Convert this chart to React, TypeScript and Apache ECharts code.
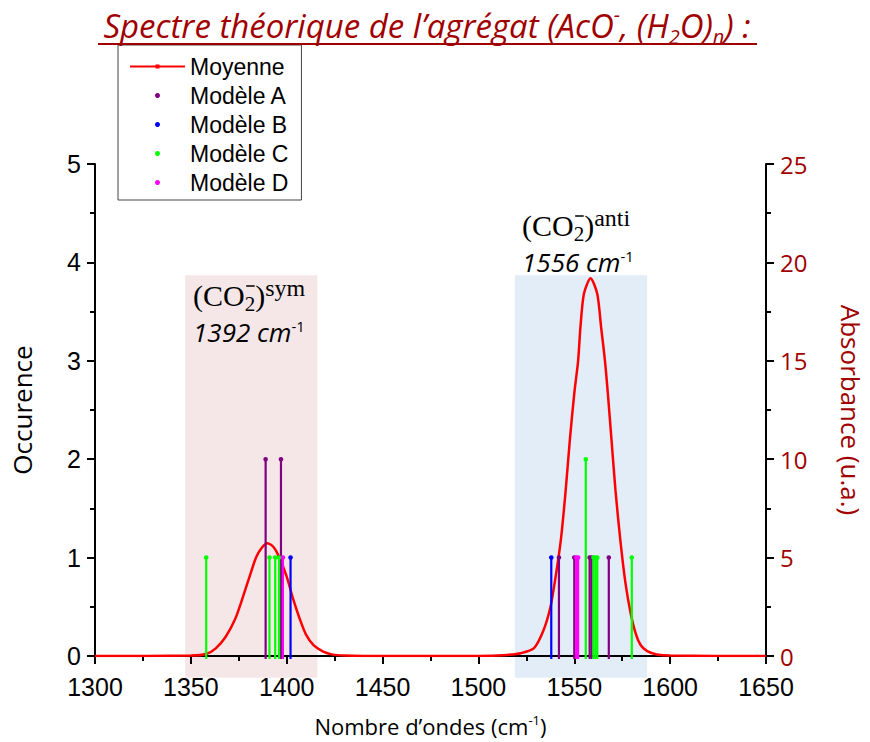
import React, { useEffect, useRef } from "react";
import * as echarts from "echarts";

// Average spectrum (Moyenne), absorbance (u.a.)
const moyenneX = [1300, 1350, 1358, 1363, 1368, 1373, 1377, 1381, 1384, 1387, 1390, 1393, 1396, 1400, 1403.5, 1407, 1410, 1414, 1419, 1424, 1430, 1440, 1500, 1510, 1515, 1522, 1529, 1534, 1537.6, 1540, 1543, 1545.5, 1547.7, 1550, 1552, 1553.2, 1555, 1558.5, 1562, 1564, 1566, 1567.5, 1569.4, 1571.5, 1574, 1576.7, 1579.4, 1582, 1584.6, 1588, 1593, 1600, 1650];
const moyenneY = [0, 0.02, 0.1, 0.39, 0.95, 1.85, 2.95, 4.15, 5.0, 5.5, 5.73, 5.55, 5.05, 4.03, 2.85, 1.83, 1.1, 0.55, 0.22, 0.07, 0.02, 0, 0, 0.02, 0.05, 0.14, 0.4, 1.32, 2.5, 3.86, 5.9, 8.4, 11.0, 13.35, 15.0, 16.7, 18.4, 19.2, 18.4, 16.7, 15.0, 13.35, 11.0, 8.4, 5.9, 3.7, 2.17, 1.15, 0.56, 0.25, 0.08, 0.02, 0];

// Occurrences per model
const modelAX = [1389, 1397, 1542, 1550, 1558, 1559, 1568];
const modelAY = [2, 2, 1, 1, 1, 1, 1];
const modelBX = [1402, 1538];
const modelBY = [1, 1];
const modelCX = [1358, 1391, 1394, 1396, 1556, 1560, 1561, 1562, 1580];
const modelCY = [1, 1, 1, 1, 2, 1, 1, 1, 1];
const modelDX = [1398, 1551, 1552];
const modelDY = [1, 1, 1];

const seriesNames = ["Moyenne", "Modèle A", "Modèle B", "Modèle C", "Modèle D"];
const seriesColors = ["#ff0000", "#800080", "#0000ff", "#00ff00", "#ff00ff"];

// Highlighted regions [from, to] in cm-1, heights in occurrence units
const symRegion = [1347, 1416];
const antiRegion = [1519, 1588];
const regionTop = 3.87;
const regionBottom = -0.22;

const DARK_RED = "#a00000";
const TICK_FONT = '"Liberation Sans Narrow", "Liberation Sans", Arial, sans-serif';

const zip = (xs: number[], ys: number[]) => xs.map((x, i) => [x, ys[i]]);

function measure(text: string, font: string) {
  const c = document.createElement("canvas").getContext("2d")!;
  c.font = font;
  return c.measureText(text).width;
}

export default function App() {
  const ref = useRef<HTMLDivElement>(null);
  useEffect(() => {
    document.body.style.margin = "0";
    if (!ref.current) return;
    const chart = echarts.init(ref.current, null, { renderer: "svg" });

    const stick = (color: string) => (params: any, api: any) => {
      const x = api.value(0);
      const y = api.value(1);
      const base = api.coord([x, 0]);
      const top = api.coord([x, y]);
      return {
        type: "group",
        children: [
          { type: "line", shape: { x1: base[0], y1: base[1] + 3, x2: top[0], y2: top[1] }, style: { stroke: color, lineWidth: 2.2 } },
          { type: "circle", shape: { cx: top[0], cy: top[1], r: 2.3 }, style: { fill: color } },
        ],
      };
    };

    const models = [
      zip(modelAX, modelAY),
      zip(modelBX, modelBY),
      zip(modelCX, modelCY),
      zip(modelDX, modelDY),
    ];

    const axisCommon = {
      axisLine: { show: true, lineStyle: { color: "#000", width: 2 } },
      axisTick: { show: true, inside: false, length: 8, lineStyle: { color: "#000", width: 2 } },
      minorTick: { show: true, splitNumber: 2, length: 5, lineStyle: { color: "#000", width: 2 } },
      splitLine: { show: false },
    };

    chart.setOption({
      animation: false,
      grid: { left: 95, right: 104, top: 164, bottom: 86, containLabel: false, outerBoundsMode: "none" },
      legend: {
        orient: "vertical",
        left: 118,
        top: 45,
        itemWidth: 55,
        itemHeight: 5,
        itemGap: 6,
        padding: [10, 13, 6, 12],
        borderColor: "#444",
        borderWidth: 1,
        selectedMode: false,
        textStyle: { fontFamily: "Liberation Sans", fontSize: 23, color: "#000" },
        data: [
          { name: seriesNames[0], icon: "path://M0,1.5L55,1.5L55,3.5L0,3.5Z M25.5,0.5L29.5,0.5L29.5,4.5L25.5,4.5Z" },
          { name: seriesNames[1], icon: "circle" },
          { name: seriesNames[2], icon: "circle" },
          { name: seriesNames[3], icon: "circle" },
          { name: seriesNames[4], icon: "circle" },
        ],
      },
      xAxis: {
        type: "value",
        min: 1300,
        max: 1650,
        interval: 50,
        offset: 3,
        ...axisCommon,
        axisLabel: { margin: 15, fontFamily: TICK_FONT, fontSize: 25, color: "#000", formatter: (v: number) => String(v) },
        name: "Nombre d’ondes (cm{s|-1})",
        nameLocation: "middle",
        nameGap: 54,
        nameTextStyle: {
          fontFamily: "Open Sans",
          fontSize: 22,
          color: "#000",
          rich: { s: { fontFamily: "Open Sans", fontSize: 13, verticalAlign: "top", lineHeight: 26 } },
        },
      },
      yAxis: [
        {
          type: "value",
          min: 0,
          max: 5,
          interval: 1,
          position: "left",
          ...axisCommon,
          axisLabel: { margin: 14, fontFamily: TICK_FONT, fontSize: 25, color: "#000" },
          name: "Occurence",
          nameLocation: "middle",
          nameGap: 60,
          nameTextStyle: { fontFamily: "Open Sans", fontSize: 26, color: "#000" },
        },
        {
          type: "value",
          min: 0,
          max: 25,
          interval: 5,
          position: "right",
          ...axisCommon,
          axisLabel: { margin: 14, fontFamily: "Open Sans", fontSize: 24, color: DARK_RED },
          name: "Absorbance (u.a.)",
          nameLocation: "middle",
          nameGap: 72,
          nameRotate: -90,
          nameTextStyle: { fontFamily: "Open Sans", fontSize: 26, color: DARK_RED },
        },
      ],
      series: [
        {
          name: seriesNames[0],
          type: "line",
          yAxisIndex: 1,
          data: zip(moyenneX, moyenneY),
          smooth: 0.25,
          symbol: "circle",
          showSymbol: false,
          lineStyle: { color: seriesColors[0], width: 2.5 },
          itemStyle: { color: seriesColors[0] },
          z: 3,
        },
        ...models.map((d, i) => ({
          name: seriesNames[i + 1],
          type: "custom",
          xAxisIndex: 0,
          yAxisIndex: 0,
          data: d,
          encode: { x: 0, y: 1 },
          renderItem: stick(seriesColors[i + 1]),
          itemStyle: { color: seriesColors[i + 1] },
          z: 4,
        })),
      ],
    });

    const px = (x: number, y: number) => chart.convertToPixel({ gridIndex: 0 }, [x, y]) as number[];
    const rectFor = (r: number[], fill: string) => {
      const a = px(r[0], regionTop);
      const b = px(r[1], regionBottom);
      return { type: "rect", z: -10, shape: { x: a[0], y: a[1], width: b[0] - a[0], height: b[1] - a[1] }, style: { fill } };
    };

    const serif = "Liberation Serif";
    const mathSize = 30;
    const coW = measure("(CO", `${mathSize}px "${serif}"`);

    const annot = (x: number, y1: number, sup: string, num: string) => [
      {
        type: "text",
        z: 10,
        x,
        y: y1,
        style: {
          text: `{m|(CO}{s|2}{m|)}{p|${sup}}`,
          verticalAlign: "middle",
          align: "left",
          rich: {
            m: { fontFamily: serif, fontSize: mathSize, lineHeight: 38, fill: "#000" },
            s: { fontFamily: serif, fontSize: 21, lineHeight: 19, verticalAlign: "bottom", fill: "#000" },
            p: { fontFamily: serif, fontSize: 24, lineHeight: 22, verticalAlign: "top", fill: "#000" },
          },
        },
      },
      {
        type: "line",
        z: 10,
        shape: { x1: x + coW + 1.5, y1: y1 - 9, x2: x + coW + 10, y2: y1 - 9 },
        style: { stroke: "#000", lineWidth: 1.5 },
      },
      {
        type: "text",
        z: 10,
        x,
        y: y1 + 37,
        style: {
          text: `{i|${num} cm}{q|-1}`,
          verticalAlign: "middle",
          align: "left",
          rich: {
            i: { fontFamily: "Open Sans", fontStyle: "italic", fontSize: 26, lineHeight: 28, fill: "#000" },
            q: { fontFamily: "Open Sans", fontSize: 15, lineHeight: 16, verticalAlign: "top", fill: "#000" },
          },
        },
      },
    ];

    chart.setOption({
      graphic: [
        rectFor(symRegion, "#f5e7e7"),
        rectFor(antiRegion, "#e3edf7"),
        {
          type: "text",
          z: 10,
          x: 427,
          y: 25,
          style: {
            text: "{t|Spectre théorique de l’agrégat (AcO}{u|-}{t|, (H}{d|2}{t|O)}{d|n}{t|) :}",
            align: "center",
            verticalAlign: "middle",
            rich: {
              t: { fontFamily: "Open Sans", fontStyle: "italic", fontSize: 33, lineHeight: 42, fill: DARK_RED },
              u: { fontFamily: "Open Sans", fontStyle: "italic", fontSize: 20, lineHeight: 26, verticalAlign: "top", fill: DARK_RED },
              d: { fontFamily: "Open Sans", fontStyle: "italic", fontSize: 20, lineHeight: 24, verticalAlign: "bottom", fill: DARK_RED },
            },
          },
        },
        { type: "line", z: 10, shape: { x1: 98, y1: 44, x2: 757, y2: 44 }, style: { stroke: DARK_RED, lineWidth: 2 } },
        ...annot(193, 295, "sym", "1392"),
        ...annot(522, 225, "anti", "1556"),
      ],
    });

    return () => chart.dispose();
  }, []);
  return <div ref={ref} style={{ width: 870, height: 742 }} />;
}
